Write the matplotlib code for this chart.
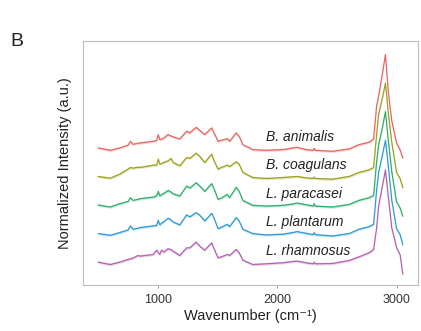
import numpy as np
import matplotlib
matplotlib.use('Agg')
import matplotlib.pyplot as plt

plt.rcParams['font.family'] = ['Liberation Sans', 'DejaVu Sans']

# Raman spectra (shared wavenumber grid, normalized intensity)
wavenumber = [500, 600, 680, 750, 770, 790, 833, 850, 960, 990, 1003, 1015, 1030, 1050,
              1085, 1110, 1127, 1183, 1240, 1267, 1320, 1350, 1392, 1450, 1470, 1503,
              1530, 1580, 1600, 1655, 1680, 1711, 1794, 1906, 2045, 2128, 2165, 2239,
              2300, 2308, 2316, 2461, 2600, 2683, 2767, 2806, 2831, 2848, 2880, 2905,
              2930, 2958, 2998, 3028, 3050]

b_animalis = [0.100, 0.077, 0.100, 0.128, 0.164, 0.135, 0.145, 0.148, 0.164, 0.174, 0.229,
              0.180, 0.185, 0.196, 0.229, 0.215, 0.206, 0.187, 0.261, 0.245, 0.299, 0.270,
              0.229, 0.293, 0.245, 0.164, 0.174, 0.190, 0.164, 0.245, 0.212, 0.132, 0.084,
              0.077, 0.084, 0.100, 0.106, 0.084, 0.077, 0.097, 0.077, 0.068, 0.090, 0.132,
              0.155, 0.187, 0.505, 0.600, 0.820, 1.000, 0.630, 0.360, 0.148, 0.080, 0.004]

b_coagulans = [0.100, 0.084, 0.122, 0.171, 0.187, 0.180, 0.190, 0.187, 0.209, 0.212, 0.267,
               0.219, 0.225, 0.235, 0.251, 0.274, 0.235, 0.203, 0.283, 0.274, 0.325, 0.293,
               0.235, 0.315, 0.251, 0.171, 0.187, 0.209, 0.196, 0.241, 0.219, 0.139, 0.090,
               0.081, 0.090, 0.097, 0.100, 0.087, 0.081, 0.094, 0.081, 0.074, 0.100, 0.139,
               0.164, 0.187, 0.505, 0.700, 0.860, 1.000, 0.700, 0.430, 0.140, 0.080, -0.006]

l_paracasei = [0.100, 0.081, 0.113, 0.135, 0.171, 0.145, 0.155, 0.161, 0.177, 0.187, 0.232,
               0.187, 0.200, 0.212, 0.241, 0.225, 0.209, 0.187, 0.283, 0.264, 0.315, 0.283,
               0.232, 0.306, 0.257, 0.155, 0.167, 0.203, 0.171, 0.270, 0.232, 0.145, 0.097,
               0.090, 0.097, 0.110, 0.119, 0.103, 0.090, 0.113, 0.090, 0.081, 0.106, 0.145,
               0.171, 0.193, 0.515, 0.680, 0.850, 1.000, 0.710, 0.420, 0.130, 0.070, -0.006]

l_plantarum = [0.100, 0.084, 0.110, 0.135, 0.174, 0.142, 0.152, 0.158, 0.174, 0.180, 0.229,
               0.184, 0.200, 0.216, 0.248, 0.230, 0.212, 0.184, 0.280, 0.261, 0.302, 0.277,
               0.222, 0.296, 0.248, 0.148, 0.161, 0.190, 0.167, 0.254, 0.222, 0.142, 0.100,
               0.087, 0.094, 0.110, 0.119, 0.103, 0.090, 0.110, 0.090, 0.077, 0.100, 0.142,
               0.167, 0.190, 0.515, 0.690, 0.860, 1.000, 0.740, 0.420, 0.148, 0.090, -0.006]

l_rhamnosus = [0.100, 0.077, 0.100, 0.126, 0.132, 0.139, 0.164, 0.158, 0.174, 0.216, 0.190,
               0.174, 0.216, 0.196, 0.229, 0.220, 0.206, 0.164, 0.238, 0.238, 0.293, 0.254,
               0.216, 0.286, 0.229, 0.142, 0.151, 0.174, 0.164, 0.222, 0.190, 0.119, 0.077,
               0.084, 0.094, 0.106, 0.110, 0.094, 0.084, 0.100, 0.084, 0.087, 0.116, 0.151,
               0.190, 0.222, 0.430, 0.640, 0.835, 0.990, 0.720, 0.430, 0.240, 0.170, -0.013]

species = ['B. animalis', 'B. coagulans', 'L. paracasei', 'L. plantarum', 'L. rhamnosus']
spectra = [b_animalis, b_coagulans, l_paracasei, l_plantarum, l_rhamnosus]
colors = ['#E8665F', '#9DA01E', '#2EAE6B', '#2E9BD8', '#B360B3']
offset_step = 0.275

fig = plt.figure(figsize=(4.21, 3.31), dpi=100)
ax = fig.add_axes([0.197, 0.139, 0.796, 0.737])

x = np.array(wavenumber)
n = len(species)
for i, (name, y, c) in enumerate(zip(species, spectra, colors)):
    off = (n - 1 - i) * offset_step
    y = np.array(y) + off
    ax.fill_between(x, y - 0.012, y + 0.012, color=c, alpha=0.25, lw=0)
    ax.plot(x, y, color=c, lw=0.9)
    ax.text(1906, off + 0.21, name, style='italic', fontsize=10,
            color='#222222', va='center', ha='left')

ax.set_xlim(372, 3178)
ax.set_ylim(-0.12, 2.23)
ax.set_xticks([1000, 2000, 3000])
ax.set_yticks([])
ax.tick_params(axis='x', length=2.5, width=0.6, colors='#8a8a8a',
               labelcolor='#333333', labelsize=9, pad=4)
for s in ax.spines.values():
    s.set_color('#bdbdbd')
    s.set_linewidth(0.8)

ax.set_xlabel('Wavenumber (cm\u207b\u00b9)', fontsize=10.5, color='#222222', labelpad=2.5)
ax.set_ylabel('Normalized Intensity (a.u.)', fontsize=10.5, color='#222222', labelpad=8)

fig.text(0.024, 0.876, 'B', fontsize=14, color='#222222', ha='left', va='center')

plt.savefig('out.png', dpi=100)
